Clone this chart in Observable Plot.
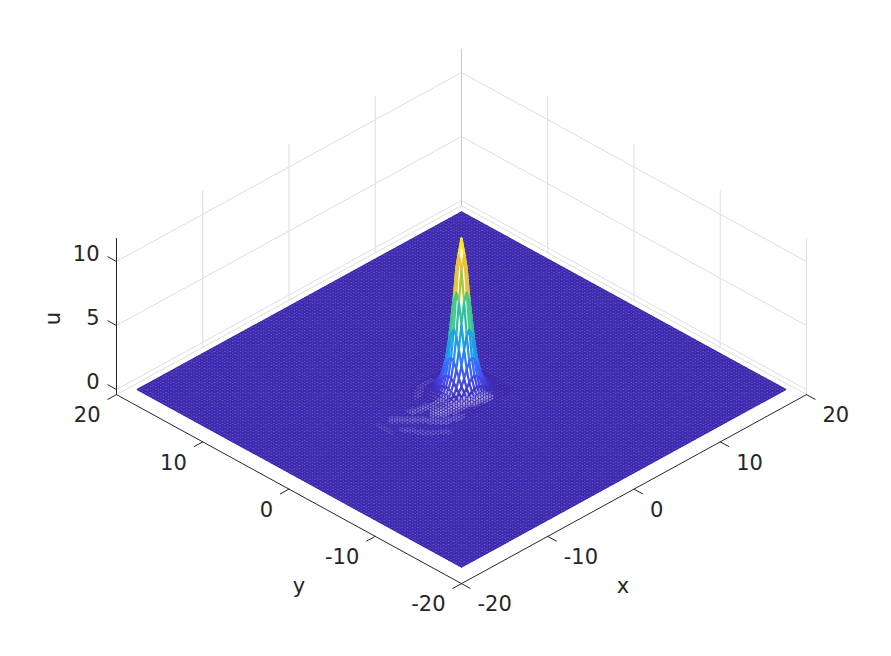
<!DOCTYPE html>
<html><head><meta charset="utf-8">
<script src="https://cdn.jsdelivr.net/npm/d3@7"></script>
<script src="https://cdn.jsdelivr.net/npm/@observablehq/plot@0.6"></script>
<style>html,body{margin:0;padding:0;background:#fff}svg{display:block}</style>
</head><body><div id="chart"></div>
<script>
const xTicks=[-20,-10,0,10,20], yTicks=[-20,-10,0,10,20], uTicks=[0,5,10];
const uMin=-0.4, uMax=11.8, axisEnd=20;
const meshStep=0.298, meshCount=63;
// heights read from the peak, one quadrant of nodes (row = |x| index, col = |y| index)
const peakU=[
[11.8,10.6,7.8,5.0,2.9,1.6,.86,.45,.23,.12,.07],
[10.6,9.5,7.1,4.6,2.7,1.5,.81,.43,.22,.12,.07],
[7.8,7.1,5.5,3.6,2.2,1.3,.7,.39,.2,.11,.06],
[5.0,4.6,3.6,2.5,1.6,.95,.54,.3,.16,.09,.05],
[2.9,2.7,2.2,1.6,1.1,.7,.39,.23,.13,.07,.04],
[1.6,1.5,1.3,.95,.7,.43,.27,.16,.09,.05,.03],
[.86,.81,.7,.54,.39,.27,.17,.1,.06,.03,.02],
[.45,.43,.39,.3,.23,.16,.1,.06,.04,.02,.01],
[.23,.22,.2,.16,.13,.09,.06,.04,.02,.01,0],
[.12,.12,.11,.09,.07,.05,.03,.02,.01,0,0],
[.07,.07,.06,.05,.04,.03,.02,.01,0,0,0]];
// ripple crests: [x, y] on the sheet, and their half widths
const crestA=[[-1.07,.44],[-2.27,-.06],[-3.82,.01],[-5.27,.41]];
const crestB=[[.43,-2.12],[-1.37,-1.6],[-2.98,-1.47],[-3.87,-1.2]];
const crestC=[[-7.22,.66],[-5.66,-.9],[-4.53,-2.45],[-3.02,-2.9]];
const crestD=[[-7.7,-.98],[-6.63,-2.69],[-5.36,-3.74]];
const crestE=[[-3.4,1.7],[-2.17,2.59],[-.85,2.75]];
const crestF=[[-8.68,1.06],[-8.77,-.54]];
const crests=[crestA,crestB,crestC,crestD,crestE,crestF];
const crestWidth=[.45,.85,.5,.4,.35,.3];
const crestShade=[.55,.8,.5,.35,.3,.22];
const parula=["#3e26a8","#4752f4","#2d87f7","#12b1d6","#37c897","#abc739","#fec338","#f9fb15"];
const sheetLight="#6f64d0", sheetLine="#3e2aae";

const H=d=>d.x-d.y, V=d=>d.x+d.y+(12.8/4.725)*d.u;
const poly=(pts,id)=>pts.map(([x,y,u])=>({x,y,u,id}));

const idx=d3.range(-meshCount,meshCount+1), edge=meshCount*meshStep;
const plane=poly([[-edge,-edge,0],[edge,-edge,0],[edge,edge,0],[-edge,edge,0]],"p");
const meshLines=idx.flatMap(k=>{const c=k*meshStep;return [
 ...poly([[c,-edge,0],[c,edge,0]],"a"+k),...poly([[-edge,c,0],[edge,c,0]],"b"+k)];});

const hgt=(i,j)=>peakU[Math.abs(i)][Math.abs(j)];
const R=peakU.length-1, cells=[];
for(let i=-R;i<R;i++)for(let j=-R;j<R;j++)cells.push({i,j,s:i+j});
cells.sort((a,b)=>b.s-a.s);
const gapColor=d3.interpolateRgb(sheetLight,"#ffffff");
const quads=cells.flatMap(({i,j})=>{
 const c=[[i,j],[i+1,j],[i+1,j+1],[i,j+1],[i,j]];
 const h=c.slice(0,4).map(([a,b])=>hgt(a,b));
 const m=(d3.mean(h)+d3.max(h))/2;
 const f=gapColor(Math.min(1,m/1.2));
 const w=m<.3?1.55:2.1;
 const edgeColor=m<.12?sheetLine:null;
 return c.map(([a,b])=>({x:a*meshStep,y:b*meshStep,u:hgt(a,b),c:m,f,w,id:i+"_"+j}));
});

// gaps in the mesh opened by the ripples: one per mesh cell lying on a crest
const segDist=(px,py,[ax,ay],[bx,by])=>{
 const dx=bx-ax,dy=by-ay,t=Math.max(0,Math.min(1,((px-ax)*dx+(py-ay)*dy)/(dx*dx+dy*dy)));
 return Math.hypot(px-ax-t*dx,py-ay-t*dy);
};
const gaps=[];
for(const i of d3.range(-36,10))for(const j of d3.range(-16,14)){
 const x=(i+.5)*meshStep,y=(j+.5)*meshStep;
 let shade=0;
 crests.forEach((c,n)=>{
  for(let s=0;s<c.length-1;s++){
   const d=segDist(x,y,c[s],c[s+1]);
   if(d<crestWidth[n]) shade=Math.max(shade,crestShade[n]*(1-.5*d/crestWidth[n]));
  }
 });
 if(shade>0) gaps.push({x,y,u:.05,shade});
}

const wallLines=[
 ...uTicks.flatMap(u=>poly([[-axisEnd,axisEnd,u],[axisEnd,axisEnd,u],[axisEnd,-axisEnd,u]],"u"+u)),
 ...poly([[-axisEnd,axisEnd,uMin],[axisEnd,axisEnd,uMin],[axisEnd,-axisEnd,uMin]],"floor"),
 ...xTicks.slice(1).flatMap(x=>poly([[x,axisEnd,uMin],[x,axisEnd,uMax]],"vx"+x)),
 ...yTicks.slice(0,-1).flatMap(y=>poly([[axisEnd,y,uMin],[axisEnd,y,uMax]],"vy"+y))
];
const axisLines=[
 ...poly([[-axisEnd,-axisEnd,uMin],[axisEnd,-axisEnd,uMin]],"ax"),
 ...poly([[-axisEnd,-axisEnd,uMin],[-axisEnd,axisEnd,uMin]],"ay"),
 ...poly([[-axisEnd,axisEnd,uMin],[-axisEnd,axisEnd,uMax]],"az"),
 ...xTicks.flatMap(x=>poly([[x,-axisEnd,uMin],[x,-axisEnd-1,uMin]],"tx"+x)),
 ...yTicks.flatMap(y=>poly([[-axisEnd,y,uMin],[-axisEnd-1,y,uMin]],"ty"+y)),
 ...uTicks.flatMap(u=>poly([[-axisEnd,axisEnd,u],[-axisEnd,axisEnd+1,u]],"tu"+u))
];
const txt={fill:"#262626",fontFamily:"DejaVu Sans",fontSize:21};
const chart=Plot.plot({
 width:891,height:656,margin:0,
 x:{axis:null,domain:[-461/8.625,430/8.625],range:[0,891]},
 y:{axis:null,domain:[389/4.725,-267/4.725],range:[0,656]},
 color:{type:"linear",domain:parula.map((_,i)=>uMax*i/(parula.length-1)),range:parula},
 style:{background:"#fff"},
 marks:[
  Plot.line(wallLines,{x:H,y:V,z:"id",stroke:"#dedede",strokeWidth:1}),
  Plot.line(poly([[axisEnd,axisEnd,uMin],[axisEnd,axisEnd,uMax]],"back"),{x:H,y:V,stroke:"#c6c6c6",strokeWidth:1}),
  Plot.line(axisLines,{x:H,y:V,z:"id",stroke:"#262626",strokeWidth:1}),
  Plot.line(plane,{x:H,y:V,z:"id",fill:sheetLight,stroke:"none"}),
  Plot.line(meshLines,{x:H,y:V,z:"id",stroke:sheetLine,strokeWidth:1.55}),
  Plot.line(quads,{x:H,y:V,z:"id",stroke:"c",fill:{value:d=>d.f,scale:null},strokeWidth:"w",strokeLinejoin:"round"}),
  Plot.dot(gaps,{x:H,y:V,r:1,fill:"#d9d7f5",fillOpacity:"shade",stroke:"none"}),
  Plot.text(xTicks,{x:d=>d+axisEnd,y:d=>d-axisEnd-1.08,text:String,dx:16,dy:21,textAnchor:"start",...txt}),
  Plot.text(yTicks,{x:d=>-axisEnd-d,y:d=>d-axisEnd-1.08,text:String,dx:-16,dy:21,textAnchor:"end",...txt}),
  Plot.text(uTicks,{x:-2*axisEnd,y:d=>(12.8/4.725)*d,text:String,dx:-17,dy:-7,textAnchor:"end",...txt}),
  Plot.text(["x"],{x:[20],y:[-1.08],text:d=>d,dx:-11,dy:192,...txt}),
  Plot.text(["y"],{x:[-20],y:[-1.08],text:d=>d,dx:10,dy:192,...txt}),
  Plot.text(["u"],{x:[-40],y:[(12.8/4.725)*5],text:d=>d,dx:-63,dy:-7,rotate:-90,...txt})
 ]
});
document.getElementById("chart").append(chart);
</script></body></html>
